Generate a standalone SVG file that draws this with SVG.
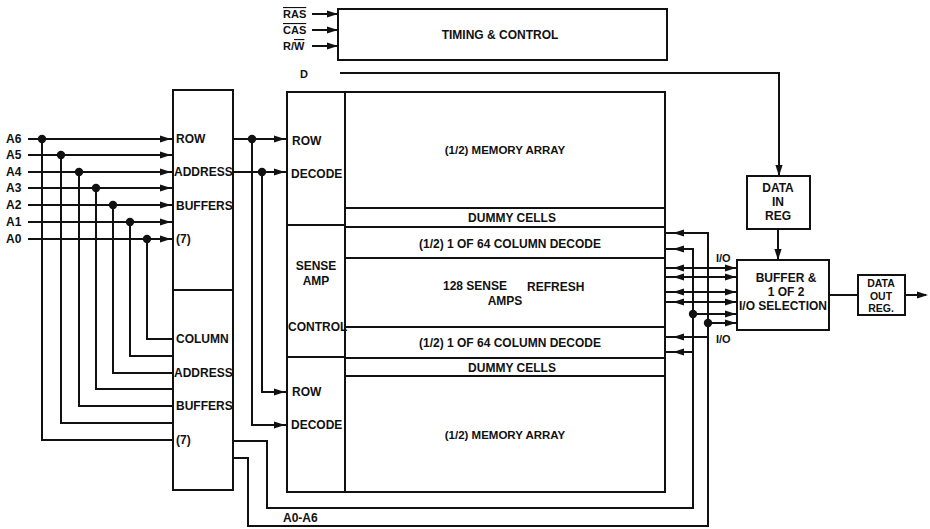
<svg xmlns="http://www.w3.org/2000/svg" xmlns:xlink="http://www.w3.org/1999/xlink" width="930" height="529" viewBox="0 0 930 529">
<style>
rect{fill:none;stroke:#111;stroke-width:2}
.w{fill:none;stroke:#111;stroke-width:2;stroke-linejoin:miter}
text{font-family:"Liberation Sans",Arial,sans-serif;font-weight:bold;font-size:12px;fill:#111}
.c{text-anchor:middle}
.m{font-size:11.5px}
.s{font-size:11px}
.o{font-size:10.5px}
</style>
<defs>
<path id="ah" d="M0,0 L-11,-3.6 L-11,3.6 Z" fill="#111"/>
<circle id="dot" r="4.2" fill="#111"/>
</defs>
<rect x="0" y="0" width="930" height="529" style="fill:#fff;stroke:none"/>

<g id="timing-control">
<rect x="338" y="9" width="329" height="51"/>
<text class="c" x="500" y="39">TIMING &amp; CONTROL</text>
</g>
<g id="control-inputs">
<text class="s" x="283" y="18"><tspan text-decoration="overline">RAS</tspan></text>
<text class="s" x="283" y="34"><tspan text-decoration="overline">CAS</tspan></text>
<text class="s" x="283" y="50">R/<tspan text-decoration="overline">W</tspan></text>
<text class="s" x="300" y="78">D</text>
</g>

<g id="row-address-buffers">
<rect x="173" y="90" width="60" height="200"/>
<text x="176" y="143">ROW</text>
<text x="174" y="176">ADDRESS</text>
<text x="176" y="210">BUFFERS</text>
<text x="176" y="243">(7)</text>
</g>
<g id="column-address-buffers">
<rect x="173" y="290" width="60" height="200"/>
<text x="176" y="343">COLUMN</text>
<text x="174" y="377">ADDRESS</text>
<text x="176" y="410">BUFFERS</text>
<text x="176" y="444">(7)</text>
</g>

<g id="address-labels">
<text x="6" y="143">A6</text>
<text x="6" y="159">A5</text>
<text x="6" y="176">A4</text>
<text x="6" y="192">A3</text>
<text x="6" y="209">A2</text>
<text x="6" y="226">A1</text>
<text x="6" y="243">A0</text>
</g>

<g id="row-decode-top">
<rect x="287" y="92" width="58" height="133"/>
<text x="292" y="145">ROW</text>
<text x="291" y="178">DECODE</text>
</g>
<g id="sense-amp-control">
<rect x="287" y="225" width="58" height="132"/>
<text class="c" x="316" y="270">SENSE</text>
<text class="c" x="316" y="285">AMP</text>
<text x="288" y="331">CONTROL</text>
</g>
<g id="row-decode-bottom">
<rect x="287" y="357" width="58" height="135"/>
<text x="292" y="396">ROW</text>
<text x="291" y="429">DECODE</text>
</g>

<g id="memory-array-top">
<rect x="345" y="92" width="320" height="116"/>
<text class="c m" x="505" y="154">(1/2) MEMORY ARRAY</text>
</g>
<g id="dummy-cells-top">
<rect x="345" y="208" width="320" height="19"/>
<text class="c" x="512" y="222">DUMMY CELLS</text>
</g>
<g id="column-decode-top">
<rect x="345" y="227" width="320" height="31"/>
<text class="c" x="510" y="248">(1/2) 1 OF 64 COLUMN DECODE</text>
</g>
<g id="sense-amps">
<rect x="345" y="258" width="320" height="69"/>
<text x="443" y="290">128 SENSE</text>
<text x="527" y="291">REFRESH</text>
<text class="c" x="505" y="305">AMPS</text>
</g>
<g id="column-decode-bottom">
<rect x="345" y="327" width="320" height="31"/>
<text class="c" x="510" y="347">(1/2) 1 OF 64 COLUMN DECODE</text>
</g>
<g id="dummy-cells-bottom">
<rect x="345" y="358" width="320" height="18"/>
<text class="c" x="512" y="372">DUMMY CELLS</text>
</g>
<g id="memory-array-bottom">
<rect x="345" y="376" width="320" height="116"/>
<text class="c m" x="505" y="439">(1/2) MEMORY ARRAY</text>
</g>

<g id="data-in-reg">
<rect x="747" y="176" width="63" height="53"/>
<text class="c" x="778" y="192">DATA</text>
<text class="c" x="778" y="206">IN</text>
<text class="c" x="778" y="220">REG</text>
</g>
<g id="buffer-io-selection">
<rect x="737" y="260" width="92" height="70"/>
<text class="c" x="786" y="282">BUFFER &amp;</text>
<text class="c" x="786" y="296">1 OF 2</text>
<text class="c" x="783" y="310">I/O SELECTION</text>
</g>
<g id="data-out-reg">
<rect x="858" y="275" width="47" height="40"/>
<text class="c o" x="881" y="287">DATA</text>
<text class="c o" x="881" y="299.5">OUT</text>
<text class="c o" x="881" y="312">REG.</text>
</g>

<g id="connectors">
<!-- control inputs -->
<path class="w" d="M312,14H338M312,30H338M312,46H338"/>
<use xlink:href="#ah" transform="translate(338,14)"/>
<use xlink:href="#ah" transform="translate(338,30)"/>
<use xlink:href="#ah" transform="translate(338,46)"/>
<!-- D input -->
<path class="w" d="M340,73H779V176"/>
<use xlink:href="#ah" transform="translate(779,176) rotate(90)"/>
<!-- data in to buffer -->
<path class="w" d="M778,229V260"/>
<use xlink:href="#ah" transform="translate(778,260) rotate(90)"/>
<!-- buffer to data out -->
<path class="w" d="M829,295H858M905,295H926"/>
<use xlink:href="#ah" transform="translate(928,295)"/>

<!-- address inputs -->
<path class="w" d="M28,139H173M28,155H173M28,172H173M28,188H173M28,205H173M28,222H173M28,239H173"/>
<path class="w" d="M147,239V339H173M130,222V356H173M113,205V373H173M96,188V389H173M79,172V406H173M61,155V423H173M42,139V440H173"/>
<use xlink:href="#dot" x="42" y="139"/>
<use xlink:href="#dot" x="61" y="155"/>
<use xlink:href="#dot" x="79" y="172"/>
<use xlink:href="#dot" x="96" y="188"/>
<use xlink:href="#dot" x="113" y="205"/>
<use xlink:href="#dot" x="130" y="222"/>
<use xlink:href="#dot" x="147" y="239"/>
<use xlink:href="#ah" transform="translate(171,139)"/>
<use xlink:href="#ah" transform="translate(171,155)"/>
<use xlink:href="#ah" transform="translate(171,172)"/>
<use xlink:href="#ah" transform="translate(171,188)"/>
<use xlink:href="#ah" transform="translate(171,205)"/>
<use xlink:href="#ah" transform="translate(171,222)"/>
<use xlink:href="#ah" transform="translate(171,239)"/>

<!-- row address to row decoders -->
<path class="w" d="M233,139H287M233,172H287M252,139V425H287M262,172V392H287"/>
<use xlink:href="#dot" x="252" y="139"/>
<use xlink:href="#dot" x="262" y="172"/>
<use xlink:href="#ah" transform="translate(285,139)"/>
<use xlink:href="#ah" transform="translate(285,172)"/>
<use xlink:href="#ah" transform="translate(285,392)"/>
<use xlink:href="#ah" transform="translate(285,425)"/>

<!-- column address A0-A6 buses -->
<path class="w" d="M233,441H267V508H693V249H665"/>
<path class="w" d="M233,458H248V526H708V233H665"/>
<path class="w" d="M708,337H665M693,352H665"/>
<use xlink:href="#ah" transform="translate(673,233) rotate(180)"/>
<use xlink:href="#ah" transform="translate(673,249) rotate(180)"/>
<use xlink:href="#ah" transform="translate(673,337) rotate(180)"/>
<use xlink:href="#ah" transform="translate(673,352) rotate(180)"/>
<text x="283" y="522">A0-A6</text>

<!-- I/O lines -->
<path class="w" d="M665,268H737M665,277H737M665,292H737M665,302H737M693,314H737M708,323H737"/>
<use xlink:href="#ah" transform="translate(673,268) rotate(180)"/>
<use xlink:href="#ah" transform="translate(673,277) rotate(180)"/>
<use xlink:href="#ah" transform="translate(673,292) rotate(180)"/>
<use xlink:href="#ah" transform="translate(673,302) rotate(180)"/>
<use xlink:href="#ah" transform="translate(736,268)"/>
<use xlink:href="#ah" transform="translate(736,277)"/>
<use xlink:href="#ah" transform="translate(736,292)"/>
<use xlink:href="#ah" transform="translate(736,302)"/>
<use xlink:href="#ah" transform="translate(736,314)"/>
<use xlink:href="#ah" transform="translate(736,323)"/>
<use xlink:href="#dot" x="693" y="314"/>
<use xlink:href="#dot" x="708" y="323"/>
<text class="s" x="716" y="262">I/O</text>
<text class="s" x="716" y="343">I/O</text>
</g>
</svg>
